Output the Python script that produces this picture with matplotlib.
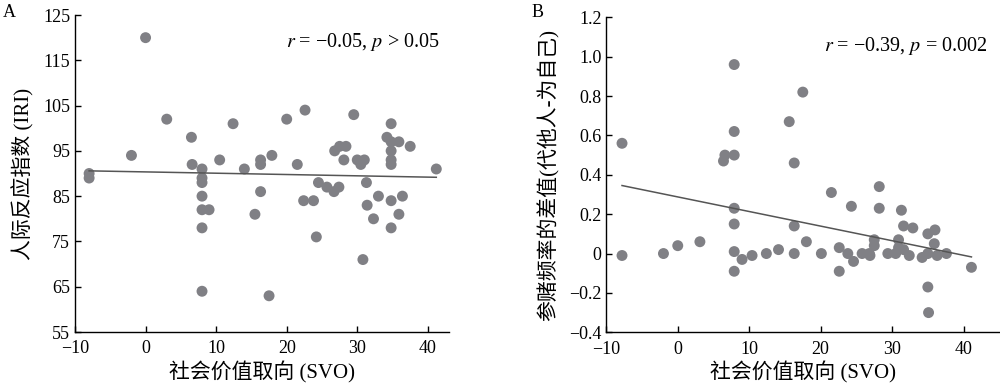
import numpy as np
import matplotlib
matplotlib.use("Agg")
import matplotlib.pyplot as plt

plt.rcParams['font.family'] = ['Liberation Serif', 'Noto Sans CJK SC']
plt.rcParams['mathtext.fontset'] = 'stix'
plt.rcParams['axes.unicode_minus'] = True

# panel A: SVO vs IRI
svo_a = [0, -8, -8, -2, 3, 6.5, 6.6, 8, 8, 8, 8, 8, 9, 8, 8,
         10.5, 12.4, 14, 15.5, 16.3, 16.3, 16.3, 17.9, 17.5, 20, 21.5, 22.6,
         22.4, 23.8, 24.2, 24.5, 25.7, 26.7, 27.4, 26.8, 27.5, 28.4, 28.1, 29.5,
         30, 31, 30.5, 31.3, 31.4, 30.8, 32.3, 33, 34.8, 34.2, 34.8, 35.9,
         34.8, 34.8, 34.8, 37.5, 34.8, 36.4, 35.9, 34.8, 41.2]
iri = [120, 90, 89, 94, 102, 98, 92, 91, 89, 88, 85, 82, 82, 78, 64,
       93, 101, 91, 81, 93, 92, 86, 94, 63, 102, 92, 104,
       84, 84, 76, 88, 87, 86, 87, 95, 96, 96, 93, 103,
       93, 93, 92, 88, 83, 71, 80, 85, 101, 98, 97, 97,
       95, 93, 92, 96, 84, 85, 81, 78, 91]

# panel B: SVO vs gambling frequency difference (others - self)
svo_b = [-7.8, -7.8, -2, 0, 3.1, 6.4, 6.6, 7.9, 7.9, 7.9, 7.9, 7.9, 7.9, 7.9,
         9.0, 10.4, 12.4, 14.1, 15.6, 16.3, 16.3, 16.3, 17.5, 18.0, 20.1, 21.5,
         22.6, 22.6, 23.8, 24.3, 24.6, 25.8, 26.8, 26.9, 27.5, 27.5, 28.2, 28.2,
         29.4, 30.5, 30.9, 30.9, 31.6, 31.3, 31.6, 32.4, 32.9, 34.2, 35.0, 35.0,
         35.0, 35.1, 36.0, 35.9, 36.3, 37.6, 41.1]
diff_b = [0.56, -0.01, 0.0, 0.04, 0.06, 0.47, 0.50, 0.96, 0.62, 0.50, 0.23, 0.15, 0.01, -0.09,
          -0.03, -0.01, 0.0, 0.02, 0.67, 0.46, 0.14, 0.0, 0.82, 0.06, 0.0, 0.31,
          0.03, -0.09, 0.0, 0.24, -0.04, 0.0, 0.0, -0.01, 0.07, 0.04, 0.34, 0.23,
          0.0, 0.0, 0.07, 0.03, 0.02, 0.22, 0.14, -0.01, 0.13, -0.02, 0.10, 0.0,
          -0.17, -0.30, 0.12, 0.05, -0.01, 0.0, -0.07]

dot_color = '#808085'
line_color = '#555555'


def style_axes(ax):
    for s in ['top', 'right']:
        ax.spines[s].set_visible(False)
    for s in ['left', 'bottom']:
        ax.spines[s].set_linewidth(1.0)
    ax.tick_params(direction='in', length=4, width=1.0, labelsize=13)
    ax.tick_params(axis='x', pad=6)


def scatter_fit(ax, x, y):
    x = np.asarray(x)
    y = np.asarray(y)
    ax.scatter(x, y, s=62, color=dot_color, edgecolors='none', zorder=2)
    k, b = np.polyfit(x, y, 1)
    xs = np.array([x.min(), x.max()])
    ax.plot(xs, k * xs + b, color=line_color, lw=1.1, zorder=3)


fig = plt.figure(figsize=(10, 3.88), dpi=100)

ax1 = fig.add_axes([0.075, 0.1443, 0.374, 0.817])
scatter_fit(ax1, svo_a, iri)
ax1.set_xlim(-10, 43)
ax1.set_ylim(55, 125)
ax1.set_xticks([-10, 0, 10, 20, 30, 40])
ax1.set_yticks(range(55, 126, 10))
style_axes(ax1)
ax1.set_xlabel('社会价值取向 (SVO)', fontsize=15, labelpad=3)
ax1.set_ylabel('人际反应指数 (IRI)', fontsize=15, labelpad=6)
ax1.text(0.975, 0.915, r'$r$ = −0.05, $p$ > 0.05', transform=ax1.transAxes,
         ha='right', va='center', fontsize=14.5)
fig.text(0.003, 0.99, 'A', ha='left', va='top', fontsize=13)

ax2 = fig.add_axes([0.6063, 0.1436, 0.393, 0.8118])
scatter_fit(ax2, svo_b, diff_b)
ax2.set_xlim(-10, 45)
ax2.set_ylim(-0.4, 1.2)
ax2.set_xticks([-10, 0, 10, 20, 30, 40])
ax2.set_yticks(np.round(np.arange(-0.4, 1.21, 0.2), 1))
ax2.set_yticklabels(['−0.4', '−0.2', '0', '0.2', '0.4', '0.6', '0.8', '1.0', '1.2'])
style_axes(ax2)
ax2.set_xlabel('社会价值取向 (SVO)', fontsize=15, labelpad=3)
ax2.set_ylabel('参赌频率的差值(代他人-为自己)', fontsize=15, labelpad=7)
ax2.text(0.97, 0.91, r'$r$ = −0.39, $p$ = 0.002', transform=ax2.transAxes,
         ha='right', va='center', fontsize=14.5)
fig.text(0.532, 0.99, 'B', ha='left', va='top', fontsize=13)

fig.savefig('out.png', dpi=100)
